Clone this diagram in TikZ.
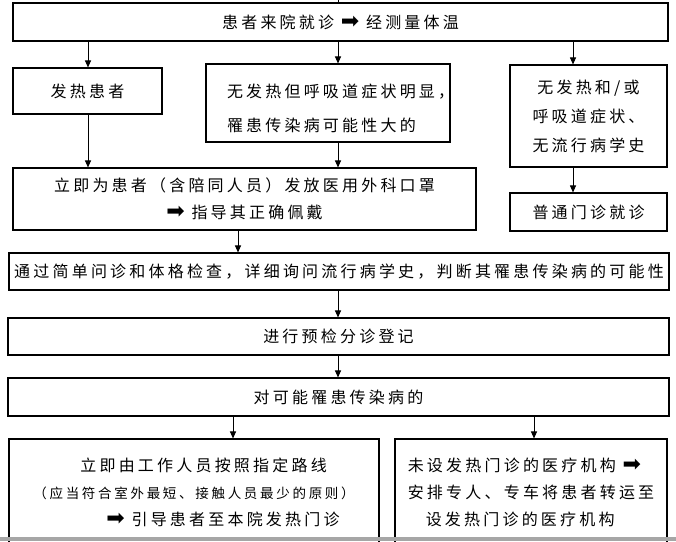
\documentclass[tikz,border=0pt]{standalone}
\usepackage{fontspec}
\newfontfamily\cjk[LetterSpace=20]{Noto Sans CJK SC}
\newfontfamily\symf{DejaVu Sans}
\usetikzlibrary{arrows.meta}
\newcommand{\rarr}{{\symf\fontsize{22}{22}\selectfont\smash{➡}}}
\begin{document}
\begin{tikzpicture}[x=1pt,y=-1pt,
  box/.style={draw, line width=1.1pt, inner sep=0pt, font=\cjk\fontsize{16}{27}\selectfont},
  arr/.style={line width=1pt, -{Triangle[length=7pt,width=6pt]}}]
\clip (0,0) rectangle (676,541);
\fill[white] (0,0) rectangle (676,541);
\node[box, minimum width=655pt, minimum height=38pt] (top) at (340.5,22) {患者来院就诊 \rarr{} 经测量体温};
\node[box, minimum width=149pt, minimum height=46pt] (fever) at (87.5,91) {发热患者};
\node[box, text width=244pt, minimum height=78pt, align=left, font=\cjk\fontsize{16}{34}\selectfont] (mid) at (328,103) {\rule{0pt}{24pt}\hspace*{21pt}无发热但呼吸道症状明显，\\\hspace*{21pt}罹患传染病可能性大的};
\node[box, minimum width=157pt, minimum height=102pt, align=center, font=\cjk\fontsize{16}{29}\selectfont] (right) at (588.5,116) {无发热和/或\\呼吸道症状、\\无流行病学史};
\node[box, minimum width=463pt, minimum height=62pt, align=center, font=\cjk\fontsize{16}{27}\selectfont] (imm) at (244.5,199) {立即为患者（含陪同人员）发放医用外科口罩\\\rarr{} 指导其正确佩戴};
\node[box, minimum width=157pt, minimum height=38pt] (gen) at (588.5,212) {普通门诊就诊};
\node[box, minimum width=660pt, minimum height=37pt] (check) at (339,271.5) {通过简单问诊和体格检查，详细询问流行病学史，判断其罹患传染病的可能性};
\node[box, minimum width=661pt, minimum height=37pt] (reg) at (338.5,336.5) {进行预检分诊登记};
\node[box, minimum width=661pt, minimum height=38pt] (poss) at (338.5,397) {对可能罹患传染病的};
\node[box, minimum width=370pt, minimum height=106pt, align=left, font=\cjk\fontsize{16}{27}\selectfont] (bl) at (194,492) {\hspace*{47pt}立即由工作人员按照指定路线\\{\fontsize{13.5}{27}\selectfont （应当符合室外最短、接触人员最少的原则）}\\\hspace*{73pt}\rarr{} 引导患者至本院发热门诊};
\node[box, minimum width=272pt, minimum height=106pt, align=left, font=\cjk\fontsize{16}{27}\selectfont] (br) at (531,492) {未设发热门诊的医疗机构 \rarr\\安排专人、专车将患者转运至\\\hspace*{18pt}设发热门诊的医疗机构};
\coordinate (c88) at (88,0);
\coordinate (c338) at (338,0);
\coordinate (c573) at (573,0);
\coordinate (c238) at (238,0);
\coordinate (c233) at (233,0);
\coordinate (c534) at (534,0);
\coordinate (entry) at (338,-5);
\draw[line width=1pt] (entry) -- (top.north -| entry);
\draw[arr] (top.south -| c88) -- (fever.north -| c88);
\draw[arr] (top.south -| c338) -- (mid.north -| c338);
\draw[arr] (top.south -| c573) -- (right.north -| c573);
\draw[arr] (fever.south -| c88) -- (imm.north -| c88);
\draw[arr] (mid.south -| c338) -- (imm.north -| c338);
\draw[arr] (right.south -| c573) -- (gen.north -| c573);
\draw[arr] (imm.south -| c238) -- (check.north -| c238);
\draw[arr] (check.south -| c338) -- (reg.north -| c338);
\draw[arr] (reg.south -| c338) -- (poss.north -| c338);
\draw[arr] (poss.south -| c233) -- (bl.north -| c233);
\draw[arr] (poss.south -| c534) -- (br.north -| c534);
\fill[gray!70] (0,536.5) rectangle (676,541);
\end{tikzpicture}
\end{document}
